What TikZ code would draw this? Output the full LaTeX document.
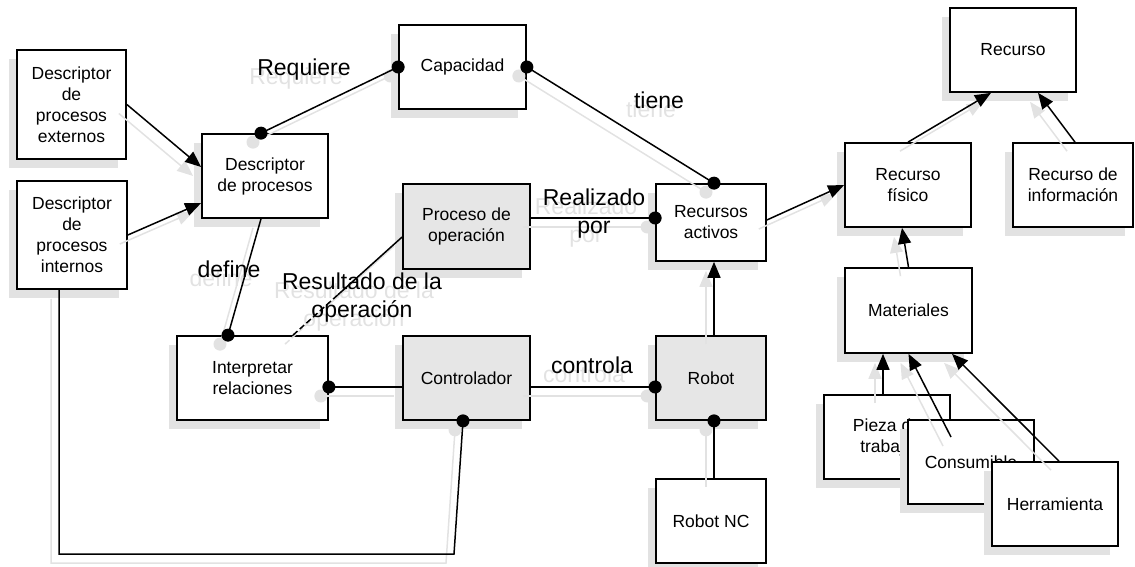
\documentclass[tikz,border=0pt]{standalone}
\usepackage{fontspec}
\setmainfont{Liberation Sans}
\usetikzlibrary{arrows.meta,shadows,calc}

\definecolor{shadowgray}{HTML}{E2E2E2}
\definecolor{boxgray}{HTML}{E6E6E6}

\newcommand\nodefont{\fontsize{17.5}{21}\selectfont}
\newcommand\relfont{\fontsize{23}{28}\selectfont}

\tikzset{
  box/.style={draw=black, line width=1.7pt, fill=white,
    minimum width=126pt, minimum height=84pt, inner sep=0pt,
    align=center, font=\nodefont,
    drop shadow={shadow xshift=-8pt, shadow yshift=-9pt, fill=shadowgray, opacity=1}},
  graybox/.style={box, fill=boxgray},
  rel/.style={font=\relfont, align=center, inner sep=0pt},
  relshadow/.style={rel, text=shadowgray, xshift=-8pt, yshift=-9pt},
  wire/.style={line width=1.5pt, color=black},
  wireshadow/.style={line width=1.5pt, color=shadowgray,
    transform canvas={xshift=-8pt, yshift=-9pt}},
  toarrow/.style={-{Triangle[length=16pt, width=13pt]}},
}

% every connector, drawn once as shadow and once in black
\newcommand\wiring[1]{%
  \draw[#1, toarrow] (ext-e) -- (dp-w1);
  \draw[#1, toarrow] (int-e) -- (dp-w2);
  \draw[#1] (dp-n) -- (cap-w);
  \draw[#1] (cap-e) -- (ract-n);
  \draw[#1] (proc-e) -- (ract-w);
  \draw[#1, toarrow] (ract-e) -- (rfis-w);
  \draw[#1, toarrow] (rfis-n) -- (rec-s1);
  \draw[#1, toarrow] (rinf-n) -- (rec-s2);
  \draw[#1, toarrow] (mat-n) -- (rfis-s);
  \draw[#1, toarrow] (pieza-n) -- (mat-s1);
  \draw[#1, toarrow] (cons-in) -- (mat-s2);
  \draw[#1, toarrow] (herr-n) -- (mat-s3);
  \draw[#1, toarrow] (robot-n) -- (ract-s);
  \draw[#1] (robot-s) -- (rnc-n);
  \draw[#1] (ctrl-e) -- (robot-w);
  \draw[#1] (interp-e) -- (ctrl-w);
  \draw[#1] (dp-s) -- (interp-n1);
  \draw[#1, dash pattern=on 6pt off 3pt] (interp-n2) -- (split);
  \draw[#1] (split) -- (proc-w);
  \draw[#1] (int-s) |- (loop) -- (ctrl-s);
  \foreach \p in {dp-n, cap-w, cap-e, ract-n, ract-w, robot-w, robot-s,
                  interp-e, interp-n1, ctrl-s}
    \fill[#1] (\p) circle (6.5pt);
}

% relation names
\newcommand\relations[1]{%
  \node[#1] (l-req) at (304,70) {Requiere};
  \node[#1] (l-tiene) at (659,100) {tiene};
  \node[#1] (l-real) at (594,214) {Realizado\\por};
  \node[#1] (l-def) at (229,269) {define};
  \node[#1] (l-res) at (362,298) {Resultado de la\\operación};
  \node[#1] (l-ctrl) at (592,365) {controla};
}

\begin{document}
\begin{tikzpicture}[x=1pt, y=-1pt]
\useasboundingbox (0,0) rectangle (1135,567);

% boxes
\node[box, minimum width=109pt, minimum height=109pt] (ext) at (71.5,104.5) {Descriptor\\de\\procesos\\externos};
\node[box, minimum width=110pt, minimum height=108pt] (int) at (72,235) {Descriptor\\de\\procesos\\internos};
\node[box] (dp) at (265,176) {Descriptor\\de procesos};
\node[box, minimum width=127pt] (cap) at (462.5,67) {Capacidad};
\node[graybox, minimum width=127pt, minimum height=85pt] (proc) at (466.5,226.5) {Proceso de\\operación};
\node[box, minimum width=110pt, minimum height=77pt] (ract) at (711,222.5) {Recursos\\activos};
\node[box] (rec) at (1013,50) {Recurso};
\node[box] (rfis) at (908,185) {Recurso\\físico};
\node[box, minimum width=120pt] (rinf) at (1073,185) {Recurso de\\información};
\node[box, minimum width=127pt, minimum height=85pt] (mat) at (908.5,310.5) {Materiales};
\node[box, minimum width=151pt] (interp) at (252.5,378) {Interpretar\\relaciones};
\node[graybox, minimum width=127pt] (ctrl) at (466.5,378) {Controlador};
\node[graybox, minimum width=110pt] (robot) at (711,378) {Robot};
\node[box, minimum width=110pt] (rnc) at (711,521) {Robot NC};
\node[box] (pieza) at (887,437) {Pieza de\\trabajo};
\node[box] (cons) at (971,462) {Consumible};
\node[box] (herr) at (1055,504) {Herramienta};

% connector end points on the box borders
\coordinate (ext-e) at (ext.east);
\coordinate (dp-w1) at ([yshift=9pt]dp.west);
\coordinate (int-e) at (int.east);
\coordinate (dp-w2) at ([yshift=-27pt]dp.west);
\coordinate (dp-n) at ([xshift=-4pt]dp.north);
\coordinate (cap-w) at (cap.west);
\coordinate (cap-e) at (cap.east);
\coordinate (ract-n) at ([xshift=3pt]ract.north);
\coordinate (proc-e) at ([yshift=8.5pt]proc.east);
\coordinate (ract-w) at ([yshift=4.5pt]ract.west);
\coordinate (ract-e) at ([yshift=2.5pt]ract.east);
\coordinate (rfis-w) at (rfis.west);
\coordinate (rfis-n) at (rfis.north);
\coordinate (rec-s1) at ([xshift=-22pt]rec.south);
\coordinate (rinf-n) at ([xshift=2pt]rinf.north);
\coordinate (rec-s2) at ([xshift=25pt]rec.south);
\coordinate (mat-n) at (mat.north);
\coordinate (rfis-s) at ([xshift=-6pt]rfis.south);
\coordinate (pieza-n) at ([xshift=-4pt]pieza.north);
\coordinate (mat-s1) at ([xshift=-25.5pt]mat.south);
\coordinate (cons-in) at ([xshift=-20pt,yshift=25pt]cons.center);
\coordinate (mat-s2) at (mat.south);
\coordinate (herr-n) at ([xshift=4pt]herr.north);
\coordinate (mat-s3) at ([xshift=43.5pt]mat.south);
\coordinate (robot-n) at ([xshift=3pt]robot.north);
\coordinate (ract-s) at ([xshift=3pt]ract.south);
\coordinate (robot-s) at ([xshift=3pt]robot.south);
\coordinate (rnc-n) at ([xshift=3pt]rnc.north);
\coordinate (ctrl-e) at ([yshift=-9pt]ctrl.east);
\coordinate (robot-w) at ([yshift=-9pt]robot.west);
\coordinate (interp-e) at ([yshift=-9pt]interp.east);
\coordinate (ctrl-w) at ([yshift=-9pt]ctrl.west);
\coordinate (dp-s) at ([xshift=-4pt]dp.south);
\coordinate (interp-n1) at ([xshift=-24.5pt]interp.north);
\coordinate (interp-n2) at ([xshift=40.5pt]interp.north);
\coordinate (proc-w) at ([yshift=-10.5pt]proc.west);
\coordinate (split) at ($(interp-n2)!0.41!(proc-w)$);
\coordinate (int-s) at ([xshift=-13pt]int.south);
\coordinate (ctrl-s) at ([xshift=-3.5pt]ctrl.south);
\coordinate (loop) at (454,554);

% shadows first, then the black drawing on top
\wiring{wireshadow}
\relations{relshadow}
\wiring{wire}
\relations{rel}
\end{tikzpicture}
\end{document}
